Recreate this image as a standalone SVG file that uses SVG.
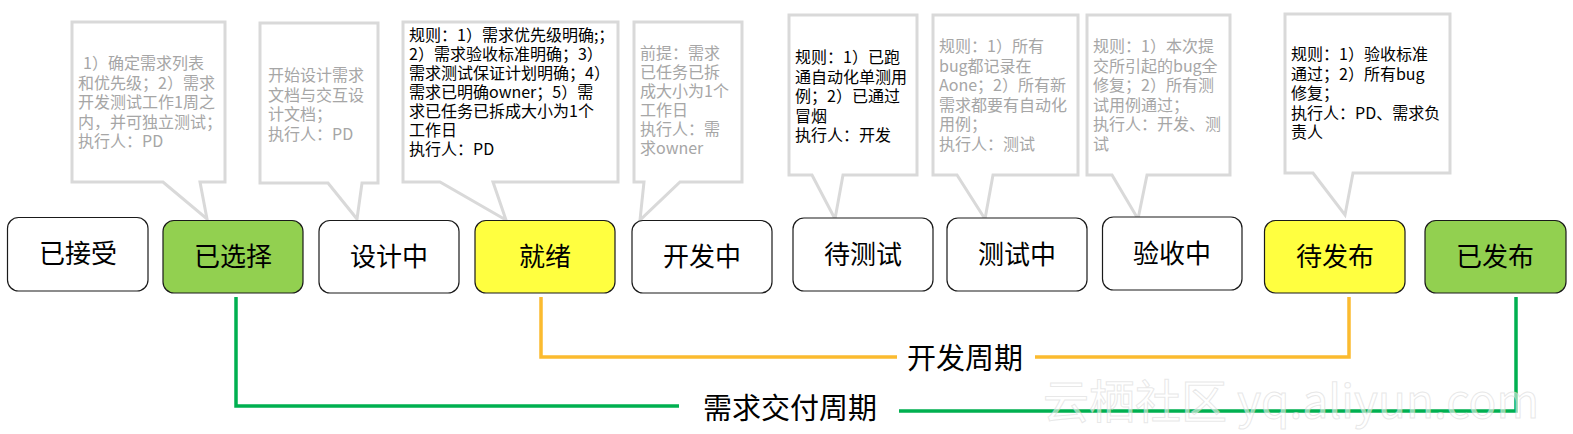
<svg xmlns="http://www.w3.org/2000/svg" width="1573" height="434" viewBox="0 0 1573 434">
<style>
  .node rect { stroke: #1a1a1a; stroke-width: 1.2; }
  .node text { font-family: "Noto Sans CJK SC", "Microsoft YaHei", sans-serif; font-size: 26px; text-anchor: middle; fill: #000; }
  .callout path { fill: #fff; stroke: #d9d9d9; stroke-width: 3; stroke-linejoin: miter; }
  .callout text { font-family: "Noto Sans CJK SC", "Microsoft YaHei", sans-serif; font-size: 16px; }
  .gray text { fill: #a6a6a6; }
  .dark text { fill: #000; }
  .conn path { fill: none; stroke-width: 3.5; }
  .orange { stroke: #fbbb2f; }
  .green { stroke: #00b050; }
  .lbl { font-family: "Noto Sans CJK SC", "Microsoft YaHei", sans-serif; font-size: 29px; fill: #000; }
  .wm { font-family: "Noto Sans CJK SC", "Microsoft YaHei", sans-serif; font-size: 46px; fill: #ffffff; fill-opacity: 0.55; stroke: #d4d4d4; stroke-opacity: 0.55; stroke-width: 1; }
</style>
<rect width="1573" height="434" fill="#fff"/>

<!-- callouts -->
<g id="callout1" class="callout gray">
  <path d="M72,22 H225 V182 H200 L207,219 L163,182 H72 Z"/>
  <text x="78" y="69"><tspan x="83">1）确定需求列表</tspan><tspan x="78" dy="19.5">和优先级；2）需求</tspan><tspan x="78" dy="19.5">开发测试工作1周之</tspan><tspan x="78" dy="19.5">内，并可独立测试；</tspan><tspan x="78" dy="19.5">执行人：PD</tspan></text>
</g>
<g id="callout2" class="callout gray">
  <path d="M260,23 H378 V183 H362 L357,219 L328,183 H260 Z"/>
  <text x="268" y="81"><tspan x="268">开始设计需求</tspan><tspan x="268" dy="19.5">文档与交互设</tspan><tspan x="268" dy="19.5">计文档；</tspan><tspan x="268" dy="19.5">执行人：PD</tspan></text>
</g>
<g id="callout3" class="callout dark">
  <path d="M403,22 H618 V182 H493 L506,220 L440,182 H403 Z"/>
  <text x="409" y="41"><tspan x="409">规则：1）需求优先级明确;；</tspan><tspan x="409" dy="19">2）需求验收标准明确；3）</tspan><tspan x="409" dy="19">需求测试保证计划明确；4）</tspan><tspan x="409" dy="19">需求已明确owner；5）需</tspan><tspan x="409" dy="19">求已任务已拆成大小为1个</tspan><tspan x="409" dy="19">工作日</tspan><tspan x="409" dy="19">执行人：PD</tspan></text>
</g>
<g id="callout4" class="callout gray">
  <path d="M634,22 H742 V182 H680 L640,220 L644,182 H634 Z"/>
  <text x="640" y="59"><tspan x="640">前提：需求</tspan><tspan x="640" dy="19">已任务已拆</tspan><tspan x="640" dy="19">成大小为1个</tspan><tspan x="640" dy="19">工作日</tspan><tspan x="640" dy="19">执行人：需</tspan><tspan x="640" dy="19">求owner</tspan></text>
</g>
<g id="callout5" class="callout dark">
  <path d="M789,15 H917 V175 H843 L835,219 L812,175 H789 Z"/>
  <text x="795" y="63"><tspan x="795">规则：1）已跑</tspan><tspan x="795" dy="19.5">通自动化单测用</tspan><tspan x="795" dy="19.5">例；2）已通过</tspan><tspan x="795" dy="19.5">冒烟</tspan><tspan x="795" dy="19.5">执行人：开发</tspan></text>
</g>
<g id="callout6" class="callout gray">
  <path d="M933,15 H1078 V175 H993 L985,219 L957,175 H933 Z"/>
  <text x="939" y="52"><tspan x="939">规则：1）所有</tspan><tspan x="939" dy="19.5">bug都记录在</tspan><tspan x="939" dy="19.5">Aone；2）所有新</tspan><tspan x="939" dy="19.5">需求都要有自动化</tspan><tspan x="939" dy="19.5">用例；</tspan><tspan x="939" dy="19.5">执行人：测试</tspan></text>
</g>
<g id="callout7" class="callout gray">
  <path d="M1087,15 H1230 V175 H1147 L1138,219 L1112,175 H1087 Z"/>
  <text x="1093" y="52"><tspan x="1093">规则：1）本次提</tspan><tspan x="1093" dy="19.5">交所引起的bug全</tspan><tspan x="1093" dy="19.5">修复；2）所有测</tspan><tspan x="1093" dy="19.5">试用例通过；</tspan><tspan x="1093" dy="19.5">执行人：开发、测</tspan><tspan x="1093" dy="19.5">试</tspan></text>
</g>
<g id="callout8" class="callout dark">
  <path d="M1285,14 H1450 V173 H1353 L1345,215 L1313,173 H1285 Z"/>
  <text x="1291" y="60"><tspan x="1291">规则：1）验收标准</tspan><tspan x="1291" dy="19.5">通过；2）所有bug</tspan><tspan x="1291" dy="19.5">修复；</tspan><tspan x="1291" dy="19.5">执行人：PD、需求负</tspan><tspan x="1291" dy="19.5">责人</tspan></text>
</g>

<!-- nodes -->
<g id="n1" class="node"><rect x="7.5" y="217.5" width="140.5" height="73.5" rx="11" fill="#fff"/><text x="78" y="263">已接受</text></g>
<g id="n2" class="node"><rect x="163" y="220.5" width="140" height="72.5" rx="11" fill="#92d050"/><text x="233" y="266">已选择</text></g>
<g id="n3" class="node"><rect x="319" y="220.5" width="140" height="72.5" rx="11" fill="#fff"/><text x="389" y="266">设计中</text></g>
<g id="n4" class="node"><rect x="475" y="220.5" width="140" height="72.5" rx="11" fill="#ffff40"/><text x="545" y="266">就绪</text></g>
<g id="n5" class="node"><rect x="632" y="220.5" width="140" height="72.5" rx="11" fill="#fff"/><text x="702" y="266">开发中</text></g>
<g id="n6" class="node"><rect x="793" y="218" width="140" height="73" rx="11" fill="#fff"/><text x="863" y="264">待测试</text></g>
<g id="n7" class="node"><rect x="947" y="218" width="140" height="73" rx="11" fill="#fff"/><text x="1017" y="264">测试中</text></g>
<g id="n8" class="node"><rect x="1102.5" y="217" width="139.5" height="73" rx="11" fill="#fff"/><text x="1172" y="263">验收中</text></g>
<g id="n9" class="node"><rect x="1264.5" y="220.5" width="140.5" height="72.5" rx="11" fill="#ffff40"/><text x="1335" y="266">待发布</text></g>
<g id="n10" class="node"><rect x="1425" y="220.5" width="141" height="72.5" rx="11" fill="#92d050"/><text x="1495" y="266">已发布</text></g>

<!-- connectors -->
<g id="connectors" class="conn">
  <path class="orange" d="M541,297 V357 H897"/>
  <path class="orange" d="M1035,357 H1349 V297"/>
  <path class="green" d="M236,297 V406 H679"/>
  <path class="green" d="M899,411 H1516 V297"/>
  <text class="lbl" x="907" y="369">开发周期</text>
  <text class="lbl" x="703" y="419">需求交付周期</text>
</g>

<text class="wm" x="1043" y="418">云栖社区 yq.aliyun.com</text>
</svg>
